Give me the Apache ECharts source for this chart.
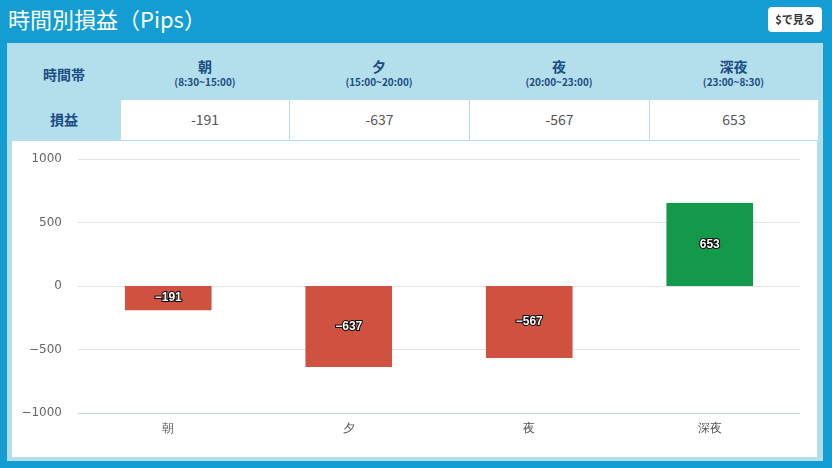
<!DOCTYPE html>
<html>
<head>
<meta charset="utf-8">
<script src="https://cdn.jsdelivr.net/npm/echarts@6/dist/echarts.min.js"></script>
<style>
html,body{margin:0;padding:0;width:832px;height:468px;overflow:hidden;background:#149dd3;font-family:"Noto Sans CJK JP","Noto Sans",Roboto,sans-serif;}
#title{position:absolute;left:8px;top:3px;color:#fff;font-size:22px;line-height:30px;white-space:nowrap;}
#btn{position:absolute;left:768px;top:7px;width:54px;height:25px;background:#fff;border-radius:4px;color:#333;font-size:11px;font-weight:bold;line-height:25px;text-align:center;}
#panel{position:absolute;left:7px;top:43px;width:816px;height:418px;background:#b3dfec;}
#tbl{position:absolute;left:0;top:0;width:811px;height:98px;}
.cell{position:absolute;text-align:center;box-sizing:border-box;}
.hd{color:#1b4c83;font-weight:bold;}
#chart{position:absolute;left:5px;top:98px;width:805px;height:316px;background:#fff;}
</style>
</head>
<body>
<div id="title"></div>
<div id="btn">$で見る</div>
<div id="panel">
  <div id="tbl"></div>
  <div id="chart"></div>
</div>
<script>
const categories = ["朝", "夕", "夜", "深夜"];
const timeRanges = ["(8:30~15:00)", "(15:00~20:00)", "(20:00~23:00)", "(23:00~8:30)"];
const profits = [-191, -637, -567, 653];
const yTicks = [-1000, -500, 0, 500, 1000];
const titleText = "時間別損益（Pips）";
const rowHeader = "時間帯";
const rowLabel = "損益";

document.getElementById('title').textContent = titleText;

function fmt(v) { return v < 0 ? '\u2212' + Math.abs(v) : String(v); }

// Table
const tbl = document.getElementById('tbl');
const colX = [0, 114, 282, 462, 642, 811];
function addCell(x, y, w, h, html, cls, style) {
  const d = document.createElement('div');
  d.className = 'cell ' + (cls || '');
  d.style.left = x + 'px'; d.style.top = y + 'px';
  d.style.width = w + 'px'; d.style.height = h + 'px';
  if (style) Object.assign(d.style, style);
  d.innerHTML = html;
  tbl.appendChild(d);
  return d;
}
addCell(0, 0, 114, 57, '<div style="padding-top:21px;font-size:14px;">' + rowHeader + '</div>', 'hd');
addCell(0, 57, 114, 40, '<div style="padding-top:9px;font-size:14px;">' + rowLabel + '</div>', 'hd');
for (let i = 0; i < categories.length; i++) {
  const x = colX[i + 1], w = colX[i + 2] - colX[i + 1];
  addCell(x, 0, w, 57, '<div style="padding-top:15px;font-size:14px;line-height:16px;">' + categories[i] + '</div><div style="font-size:10px;line-height:14px;margin-top:1px;">' + timeRanges[i] + '</div>', 'hd');
  addCell(x, 57, w, 40, '<div style="padding-top:9px;font-size:14px;color:#555;">' + profits[i] + '</div>', '',
    {background:'#fff', borderLeft: i > 0 ? '1px solid #b3dfec' : 'none'});
}

// Chart
const chart = echarts.init(document.getElementById('chart'));
chart.setOption({
  animation: false,
  grid: {left: 66, right: 17, top: 18, bottom: 44},
  xAxis: {
    type: 'category',
    data: categories,
    axisLine: {show: false},
    axisTick: {show: false},
    axisLabel: {color: '#555', fontSize: 12, margin: 10}
  },
  yAxis: {
    type: 'value',
    min: yTicks[0],
    max: yTicks[yTicks.length - 1],
    interval: 500,
    axisLine: {show: false},
    axisTick: {show: false},
    axisLabel: {color: '#666', fontSize: 12, margin: 16, fontFamily: 'DejaVu Sans', formatter: fmt},
    splitLine: {lineStyle: {color: '#e3e3e3', width: 1}}
  },
  series: [{
    type: 'bar',
    data: profits.map(v => ({value: v, itemStyle: {color: v < 0 ? '#cf5240' : '#12994a'}})),
    barWidth: '48%',
    label: {
      show: true,
      position: 'inside',
      color: '#fff',
      fontWeight: 'bold',
      fontSize: 12,
      textBorderColor: '#000',
      textBorderWidth: 2,
      formatter: p => fmt(p.value)
    },
    markLine: {
      silent: true,
      symbol: 'none',
      label: {show: false},
      lineStyle: {color: '#c6d2e6', type: 'solid', width: 1},
      data: [{yAxis: yTicks[0]}]
    }
  }]
});
</script>
</body>
</html>
